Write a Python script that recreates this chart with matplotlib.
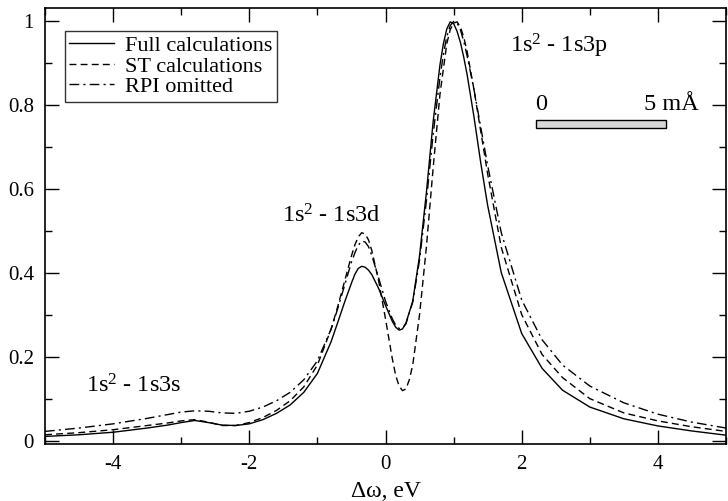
import matplotlib
matplotlib.use("Agg")
import matplotlib.pyplot as plt
from matplotlib.patches import Rectangle
from matplotlib.ticker import MultipleLocator

plt.rcParams['font.family'] = ['Liberation Serif', 'DejaVu Serif']
plt.rcParams['mathtext.fontset'] = 'custom'
plt.rcParams['mathtext.rm'] = 'Liberation Serif'
plt.rcParams['mathtext.it'] = 'Liberation Serif:italic'

# energy detuning (eV)
x_full = [-5.0, -4.5, -4.0, -3.5, -3.2, -3.0, -2.8, -2.6, -2.4, -2.2, -2.0, -1.8, -1.6,
          -1.4, -1.2, -1.0, -0.8, -0.7, -0.6, -0.5, -0.45, -0.4, -0.35, -0.3, -0.25,
          -0.2, -0.1, 0.0, 0.1, 0.15, 0.2, 0.25, 0.3, 0.4, 0.5, 0.6, 0.7, 0.8, 0.85,
          0.9, 0.95, 1.0, 1.05, 1.1, 1.15, 1.2, 1.3, 1.4, 1.5, 1.7, 2.0, 2.3, 2.6,
          3.0, 3.5, 4.0, 4.5, 5.0]
y_full = [0.010, 0.014, 0.020, 0.030, 0.037, 0.043, 0.048, 0.043, 0.037, 0.036, 0.040,
          0.050, 0.065, 0.085, 0.115, 0.160, 0.235, 0.282, 0.330, 0.375, 0.396, 0.410,
          0.415, 0.413, 0.406, 0.395, 0.362, 0.322, 0.284, 0.270, 0.263, 0.266, 0.280,
          0.332, 0.440, 0.590, 0.760, 0.895, 0.945, 0.980, 0.997, 0.993, 0.975, 0.948,
          0.912, 0.870, 0.770, 0.660, 0.560, 0.400, 0.255, 0.172, 0.120, 0.080, 0.052,
          0.035, 0.023, 0.013]

x_st = [-5.0, -4.5, -4.0, -3.5, -3.2, -3.0, -2.8, -2.6, -2.4, -2.2, -2.0, -1.8, -1.6,
        -1.4, -1.2, -1.0, -0.8, -0.7, -0.6, -0.5, -0.45, -0.4, -0.35, -0.3, -0.25,
        -0.2, -0.1, 0.0, 0.1, 0.15, 0.2, 0.25, 0.3, 0.35, 0.4, 0.5, 0.6, 0.7, 0.8,
        0.9, 0.95, 1.0, 1.05, 1.1, 1.15, 1.2, 1.3, 1.4, 1.5, 1.7, 2.0, 2.3, 2.6,
        3.0, 3.5, 4.0, 4.5, 5.0]
y_st = [0.014, 0.019, 0.026, 0.036, 0.042, 0.047, 0.050, 0.044, 0.036, 0.036, 0.043,
        0.055, 0.072, 0.095, 0.128, 0.180, 0.265, 0.320, 0.380, 0.440, 0.466, 0.485,
        0.495, 0.492, 0.478, 0.452, 0.380, 0.290, 0.195, 0.155, 0.130, 0.119, 0.123,
        0.145, 0.180, 0.300, 0.460, 0.650, 0.825, 0.945, 0.978, 0.994, 0.997, 0.985,
        0.960, 0.925, 0.835, 0.735, 0.635, 0.460, 0.300, 0.205, 0.150, 0.100, 0.066,
        0.047, 0.033, 0.022]

x_rpi = [-5.0, -4.5, -4.0, -3.5, -3.2, -3.0, -2.8, -2.6, -2.4, -2.2, -2.0, -1.8, -1.6,
         -1.4, -1.2, -1.0, -0.8, -0.7, -0.6, -0.5, -0.45, -0.4, -0.35, -0.3, -0.25,
         -0.2, -0.1, 0.0, 0.1, 0.15, 0.2, 0.25, 0.3, 0.4, 0.5, 0.6, 0.7, 0.8, 0.85,
         0.9, 0.95, 1.0, 1.05, 1.1, 1.15, 1.2, 1.3, 1.4, 1.5, 1.7, 2.0, 2.3, 2.6,
         3.0, 3.5, 4.0, 4.5, 5.0]
y_rpi = [0.022, 0.030, 0.040, 0.053, 0.062, 0.068, 0.071, 0.070, 0.066, 0.065, 0.070,
         0.080, 0.095, 0.115, 0.145, 0.190, 0.265, 0.315, 0.370, 0.425, 0.447, 0.465,
         0.475, 0.473, 0.462, 0.440, 0.387, 0.332, 0.290, 0.275, 0.267, 0.268, 0.278,
         0.330, 0.430, 0.570, 0.730, 0.865, 0.920, 0.962, 0.988, 0.998, 0.995, 0.978,
         0.950, 0.915, 0.835, 0.745, 0.655, 0.495, 0.335, 0.240, 0.180, 0.130, 0.090,
         0.063, 0.044, 0.030]

labels = ['Full calculations', 'ST calculations', 'RPI omitted']

fig = plt.figure(figsize=(7.28, 5.01), dpi=100)
ax = fig.add_axes([45 / 728, 1 - 444 / 501, 681 / 728, 436 / 501])

ax.plot(x_full, y_full, color='black', lw=1.0, label=labels[0])
ax.plot(x_st, y_st, color='black', lw=1.0, dashes=(5, 3), label=labels[1])
ax.plot(x_rpi, y_rpi, color='black', lw=1.0, dashes=(7, 3, 1.5, 3), label=labels[2])

ax.set_xlim(-5, 5)
ax.set_ylim(-0.008, 1.03)
ax.xaxis.set_minor_locator(MultipleLocator(1))
ax.yaxis.set_minor_locator(MultipleLocator(0.1))
ax.set_yticks([0, 0.2, 0.4, 0.6, 0.8, 1.0])
ax.set_yticklabels(['0', '0.2', '0.4', '0.6', '0.8', '1'])
ax.set_xticks([-4, -2, 0, 2, 4])
ax.set_xticklabels(['-4', '-2', '0', '2', '4'])
ax.tick_params(which='both', direction='in', top=True, right=True, labelsize=15,
               width=1.0)
ax.tick_params(which='major', length=10, pad=8)
ax.tick_params(which='minor', length=5)
for s in ax.spines.values():
    s.set_linewidth(1.2)

ax.set_xlabel('Δω, eV', fontsize=17, labelpad=5)

leg = ax.legend(loc='upper left', bbox_to_anchor=(0.029, 0.947), fontsize=16,
                frameon=True, fancybox=False, edgecolor='black', handlelength=2.0,
                borderpad=0.2, labelspacing=0.0, handletextpad=0.5, borderaxespad=0)
leg.get_frame().set_linewidth(1.0)

ax.text(-3.7, 0.13, '1s$^2$ - 1s3s', fontsize=17.5, ha='center', va='center')
ax.text(-0.8, 0.535, '1s$^2$ - 1s3d', fontsize=17.5, ha='center', va='center')
ax.text(2.55, 0.94, '1s$^2$ - 1s3p', fontsize=17.5, ha='center', va='center')

# scale bar
ax.add_patch(Rectangle((2.21, 0.745), 1.91, 0.019, facecolor='#d8d8d8',
                       edgecolor='black', lw=1.0))
ax.text(2.29, 0.80, '0', fontsize=17.5, ha='center', va='center')
ax.text(4.2, 0.80, '5 mÅ', fontsize=17.5, ha='center', va='center')

fig.savefig('out.png', dpi=100)
